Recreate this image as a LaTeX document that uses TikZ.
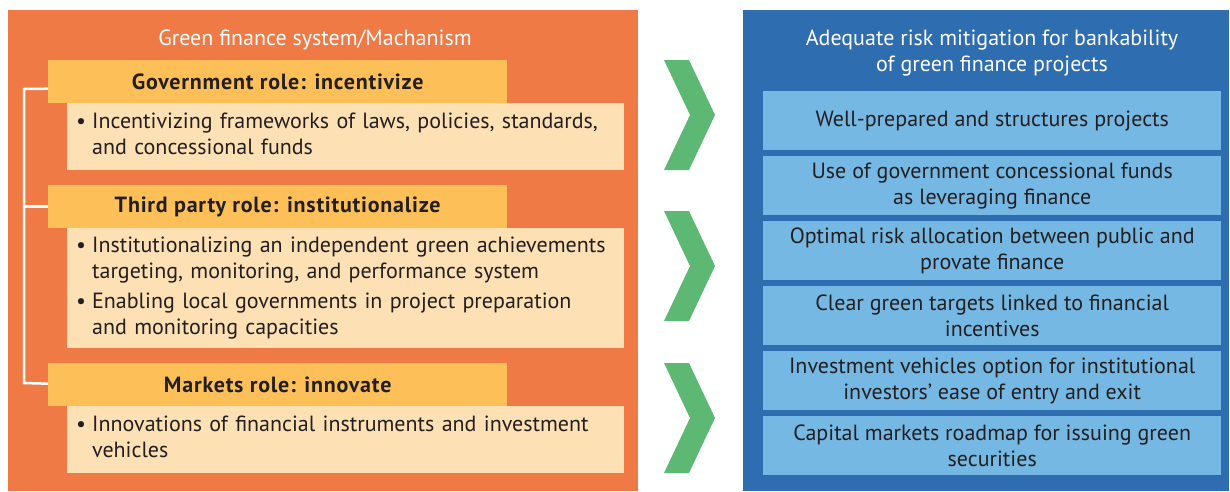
\documentclass[tikz,border=0pt]{standalone}
\usepackage{fontspec}
\setmainfont{PT Sans}
\newfontfamily\hdrfont[LetterSpace=3.5]{PT Sans}
\usetikzlibrary{calc}
\definecolor{orng}{RGB}{239,122,70}
\definecolor{hdr}{RGB}{253,191,87}
\definecolor{cream}{RGB}{253,224,180}
\definecolor{blu}{RGB}{46,109,176}
\definecolor{lblu}{RGB}{116,184,227}
\definecolor{grn}{RGB}{93,184,116}
\definecolor{txt}{RGB}{35,31,32}
\newcommand{\bl}{\textbullet}
\begin{document}
\begin{tikzpicture}[x=1pt,y=-1pt,
  hdrbox/.style={fill=hdr,anchor=north west,minimum width=459pt,minimum height=43pt,inner sep=0pt,text=txt,font=\hdrfont\fontsize{22}{26}\selectfont\bfseries},
  bodybox/.style={fill=cream,anchor=north west,minimum width=557pt,inner xsep=9pt,inner ysep=0pt,text width=539pt,align=left,text=txt,font=\fontsize{22}{26}\selectfont},
  rbox/.style={fill=lblu,anchor=north west,minimum width=458pt,minimum height=59pt,inner sep=0pt,align=center,text=txt,font=\fontsize{22}{26}\selectfont},
  ttl/.style={text=white,align=center,font=\fontsize{22}{26}\selectfont},
  chev/.style={fill=grn},
  brk/.style={draw=white,line width=2.5pt}
]
\useasboundingbox (0,0) rectangle (1230,491);
% panels
\fill[orng] (8,10) rectangle (638,491);
\fill[blu] (743,10) rectangle (1229,491);
\node[ttl] (lt) at (315,40) {Green finance system/Machanism};
\node[ttl] (rt) at (992,53) {Adequate risk mitigation for bankability\\of green finance projects};
% left: headers
\node[hdrbox] (h1) at (48,60) {Government role: incentivize};
\node[hdrbox] (h2) at (48,185) {Third party role: institutionalize};
\node[hdrbox] (h3) at (48,363) {Markets role: innovate};
% left: bodies
\node[bodybox,minimum height=67pt] (b1) at (67,103) {\begin{tabular}{@{}l@{\hspace{6pt}}l@{}}\bl & Incentivizing frameworks of laws, policies, standards,\\ & and concessional funds\end{tabular}};
\node[bodybox,minimum height=120pt] (b2) at (67,228) {\begin{tabular}{@{}l@{\hspace{6pt}}l@{}}\bl & Institutionalizing an independent green achievements\\ & targeting, monitoring, and performance system\\[4pt] \bl & Enabling local governments in project preparation\\ & and monitoring capacities\end{tabular}};
\node[bodybox,minimum height=67pt] (b3) at (67,406) {\begin{tabular}{@{}l@{\hspace{6pt}}l@{}}\bl & Innovations of financial instruments and investment\\ & vehicles\end{tabular}};
% bracket
\coordinate (k1) at (24,89);
\coordinate (k3) at (24,383);
\draw[brk] ([yshift=-7pt]h1.west) -- (k1) -- (k3) -- ([yshift=1pt]h3.west);
\draw[brk] (h2.west) -- (h2.west -| k1);
% chevrons
\foreach \c in {115,266,418}{
  \fill[chev] (664,\c-55) -- (689,\c-55) -- (715,\c) -- (689,\c+55) -- (664,\c+55) -- (690,\c) -- cycle;
}
% right boxes
\node[rbox] (r1) at (763,91) {Well-prepared and structures projects};
\node[rbox] (r2) at (763,156) {Use of government concessional funds\\as leveraging finance};
\node[rbox] (r3) at (763,221) {Optimal risk allocation between public and\\provate finance};
\node[rbox] (r4) at (763,286) {Clear green targets linked to financial\\incentives};
\node[rbox] (r5) at (763,351) {Investment vehicles option for institutional\\investors' ease of entry and exit};
\node[rbox] (r6) at (763,416) {Capital markets roadmap for issuing green\\securities};
\end{tikzpicture}
\end{document}
